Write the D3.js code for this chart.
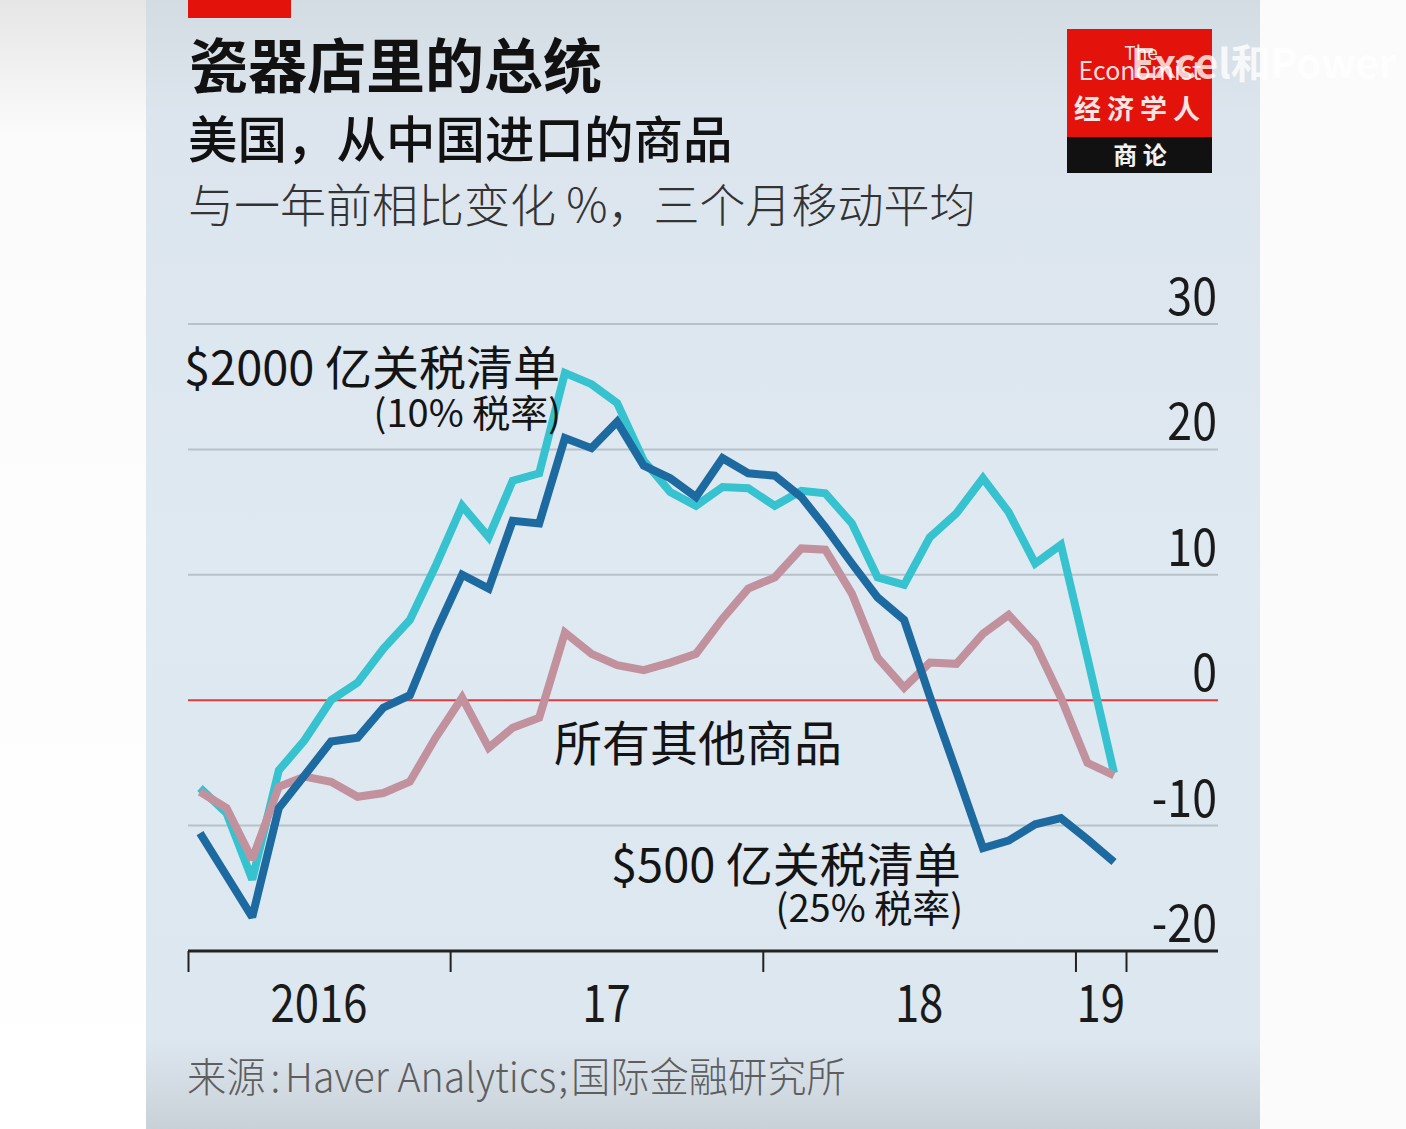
<!DOCTYPE html>
<html><head><meta charset="utf-8">
<script src="https://cdn.jsdelivr.net/npm/d3@7"></script>
<style>
html,body{margin:0;padding:0;background:#fff;}
svg{display:block;}
text{font-family:"Noto Sans CJK SC","Noto Sans",sans-serif;}
</style></head>
<body>
<svg id="chart" width="1406" height="1129"></svg>
<script>
// ---- data (year-on-year % change, 3-month moving average), monthly Mar 2016 - Feb 2019 ----
const months = ["2016-03","2016-04","2016-05","2016-06","2016-07","2016-08","2016-09","2016-10","2016-11","2016-12",
  "2017-01","2017-02","2017-03","2017-04","2017-05","2017-06","2017-07","2017-08","2017-09","2017-10","2017-11","2017-12",
  "2018-01","2018-02","2018-03","2018-04","2018-05","2018-06","2018-07","2018-08","2018-09","2018-10","2018-11","2018-12",
  "2019-01","2019-02"];
const list200bn = [-7.0,-9.0,-14.3,-5.6,-3.2,0.0,1.4,4.1,6.4,10.7,
  15.5,13.0,17.5,18.1,26.1,25.2,23.7,19.1,16.6,15.5,17.0,16.9,
  15.5,16.7,16.5,14.1,9.8,9.2,13.0,14.9,17.7,15.0,10.9,12.4,
  3.4,-5.8];
const list50bn = [-10.6,-14.0,-17.3,-8.6,-6.0,-3.3,-3.0,-0.6,0.4,5.4,
  10.0,8.9,14.3,14.1,20.9,20.1,22.2,18.7,17.7,16.2,19.3,18.1,
  17.9,16.2,13.8,10.9,8.2,6.4,0.3,-5.7,-11.8,-11.2,-9.9,-9.4,
  -11.1,-12.9];
const allOther = [-7.3,-8.6,-12.7,-6.9,-6.1,-6.5,-7.7,-7.4,-6.5,-3.0,
  0.2,-3.8,-2.2,-1.4,5.4,3.7,2.8,2.4,3.0,3.7,6.5,8.9,
  9.8,12.1,12.0,8.5,3.4,1.0,3.0,2.9,5.3,6.8,4.5,0.2,
  -5.0,-6.0];
const yTicks = [-20,-10,0,10,20,30];
const xTickDates = ["2016-03-01","2017-01-01","2018-01-01","2019-01-01","2019-03-01"];
const xLabels = ["2016","17","18","19"];

const title = "瓷器店里的总统";
const subtitle1 = "美国，从中国进口的商品";
const subtitle2 = "与一年前相比变化 %，三个月移动平均";
const sourceParts = ["来源", ":", "Haver Analytics", ";", "国际金融研究所"];

// ---- layout ----
const svg = d3.select("#chart");
const W = 1406, H = 1129;
const panelX0 = 146, panelX1 = 1260;
const plotL = 188, plotR = 1218;
const parseM = d3.timeParse("%Y-%m");
const parseD = d3.timeParse("%Y-%m-%d");
const dates = months.map(m => d3.timeDay.offset(parseM(m), 14));

const x = d3.scaleTime().domain([parseD("2016-03-01"), parseD("2019-03-01")]).range([188, 1126]);
const y = d3.scaleLinear().domain([-20, 30]).range([951, 324]);

// ---- backgrounds ----
const defs = svg.append("defs");
const gL = defs.append("linearGradient").attr("id","outerL").attr("x1",0).attr("y1",0).attr("x2",0).attr("y2",1);
gL.append("stop").attr("offset",0).attr("stop-color","#e6e6e6");
gL.append("stop").attr("offset",0.12).attr("stop-color","#fbfbfb");
gL.append("stop").attr("offset",1).attr("stop-color","#ffffff");
const gP = defs.append("linearGradient").attr("id","panel").attr("x1",0).attr("y1",0).attr("x2",0).attr("y2",1);
gP.append("stop").attr("offset",0).attr("stop-color","#d4dce3");
gP.append("stop").attr("offset",0.1).attr("stop-color","#dce5ed");
gP.append("stop").attr("offset",0.5).attr("stop-color","#dfe9f2");
gP.append("stop").attr("offset",0.92).attr("stop-color","#dde7ef");
gP.append("stop").attr("offset",1).attr("stop-color","#c9d1d8");

svg.append("rect").attr("x",0).attr("y",0).attr("width",panelX0).attr("height",H).attr("fill","url(#outerL)");
svg.append("rect").attr("x",panelX1).attr("y",0).attr("width",W-panelX1).attr("height",H).attr("fill","#fbfbfb");
svg.append("rect").attr("x",panelX0).attr("y",0).attr("width",panelX1-panelX0).attr("height",H).attr("fill","url(#panel)");

// red tab
svg.append("rect").attr("x",188).attr("y",0).attr("width",103).attr("height",18).attr("fill","#e3120b");

// titles
svg.append("text").attr("x",189).attr("y",88).attr("font-size",59).attr("font-weight",700)
  .attr("fill","#111").text(title);
svg.append("text").attr("x",188).attr("y",158).attr("font-size",49.5).attr("font-weight",500)
  .attr("fill","#111").text(subtitle1);
svg.append("text").attr("x",188).attr("y",222).attr("font-size",46).attr("font-weight",300)
  .attr("fill","#333").text(subtitle2);

// logo
const lg = svg.append("g");
lg.append("rect").attr("x",1067).attr("y",29).attr("width",145).attr("height",108).attr("fill","#e3120b");
lg.append("rect").attr("x",1067).attr("y",137).attr("width",145).attr("height",36).attr("fill","#111");
lg.append("text").attr("x",1141).attr("y",60).attr("text-anchor","middle").attr("font-size",19)
  .attr("font-family","Liberation Serif, DejaVu Serif, serif").attr("fill","#f6dede").text("The");
lg.append("text").attr("x",1140).attr("y",80).attr("text-anchor","middle").attr("font-size",25)
  .attr("font-family","Liberation Serif, DejaVu Serif, serif").attr("fill","#f6dede").text("Economist");
lg.append("text").attr("x",1140).attr("y",119).attr("text-anchor","middle").attr("font-size",27)
  .attr("font-weight",700).attr("letter-spacing",6).attr("fill","#f8e4e4").text("经济学人");
lg.append("text").attr("x",1140).attr("y",164).attr("text-anchor","middle").attr("font-size",24)
  .attr("font-weight",700).attr("fill","#f2f2f2").text("商 论");
// watermark (partly off the right edge, as in the reference)
svg.append("text").attr("x",1131).attr("y",78).attr("font-size",40).attr("font-weight",700)
  .attr("fill","#ffffff").attr("fill-opacity",0.8).attr("font-family","Noto Sans CJK SC, sans-serif")
  .text("Excel和Power");

// gridlines
const grid = svg.append("g");
yTicks.filter(t => t !== 0 && t !== -20).forEach(t => {
  grid.append("line").attr("x1",plotL).attr("x2",plotR).attr("y1",y(t)).attr("y2",y(t))
    .attr("stroke","#b6c1c9").attr("stroke-width",2);
});
// y labels via axis
const yAxis = d3.axisRight(y).tickValues(yTicks).tickSize(0).tickFormat(d => String(d));
const yg = svg.append("g").call(yAxis);
yg.select(".domain").remove();
yg.selectAll(".tick text").each(function(d){
  const t = d3.select(this);
  t.attr("x",null).attr("dy",null).attr("text-anchor","end").attr("fill","#1a1a1a")
   .attr("font-size",52).attr("font-family","Noto Sans CJK SC, sans-serif")
   .attr("transform",`translate(${plotR-1},${-9}) scale(0.86,1)`);
});
yg.selectAll(".tick").attr("transform", d => `translate(0,${y(d)})`);

// zero line
svg.append("line").attr("x1",plotL).attr("x2",plotR).attr("y1",y(0)).attr("y2",y(0))
  .attr("stroke","#e2393d").attr("stroke-width",2);

// series lines
const line = d3.line().x((d,i) => x(dates[i])).y(d => y(d));
const series = [
  {vals: list200bn, color: "#37c2cf"},
  {vals: allOther, color: "#c2919e"},
  {vals: list50bn, color: "#1d6aa1"}
];
series.forEach(s => {
  svg.append("path").attr("d", line(s.vals)).attr("fill","none").attr("stroke",s.color)
    .attr("stroke-width",8).attr("stroke-linejoin","miter").attr("stroke-miterlimit",2.5);
});

// x axis
const xAxis = d3.axisBottom(x).tickValues(xTickDates.map(parseD)).tickSize(21).tickFormat("");
const xg = svg.append("g").attr("transform",`translate(0,${y(-20)})`).call(xAxis);
xg.select(".domain").remove();
xg.selectAll(".tick line").attr("stroke","#222").attr("stroke-width",2);
svg.append("line").attr("x1",plotL).attr("x2",plotR).attr("y1",y(-20)).attr("y2",y(-20))
  .attr("stroke","#222").attr("stroke-width",3);
const tickD = xTickDates.map(parseD);
xLabels.forEach((lab,i) => {
  const cx = (x(tickD[i]) + x(tickD[i+1])) / 2;
  svg.append("text").attr("text-anchor","middle").attr("font-size",52).attr("fill","#1a1a1a")
    .attr("transform",`translate(${cx},1022) scale(0.84,1)`).text(lab);
});

// annotations
function ann(txt, xx, yy, size, anchor){
  svg.append("text").attr("x",xx).attr("y",yy).attr("font-size",size).attr("text-anchor",anchor)
    .attr("fill","#141414").text(txt);
}
ann("$2000 亿关税清单", 184, 385, 47, "start");
ann("(10% 税率)", 561, 427, 38, "end");
ann("所有其他商品", 554, 761, 48, "start");
ann("$500 亿关税清单", 611, 882, 47, "start");
ann("(25% 税率)", 963, 922, 38, "end");

// source
const src = svg.append("text").attr("transform","translate(187,1092) scale(0.97,1)")
  .attr("font-size",40.5).attr("font-weight",300).attr("fill","#5e5e5e");
const srcDx = [0, 5, 5, 2, 3];
sourceParts.forEach((p,i) => src.append("tspan").attr("dx", srcDx[i]).text(p));
</script>
</body></html>
